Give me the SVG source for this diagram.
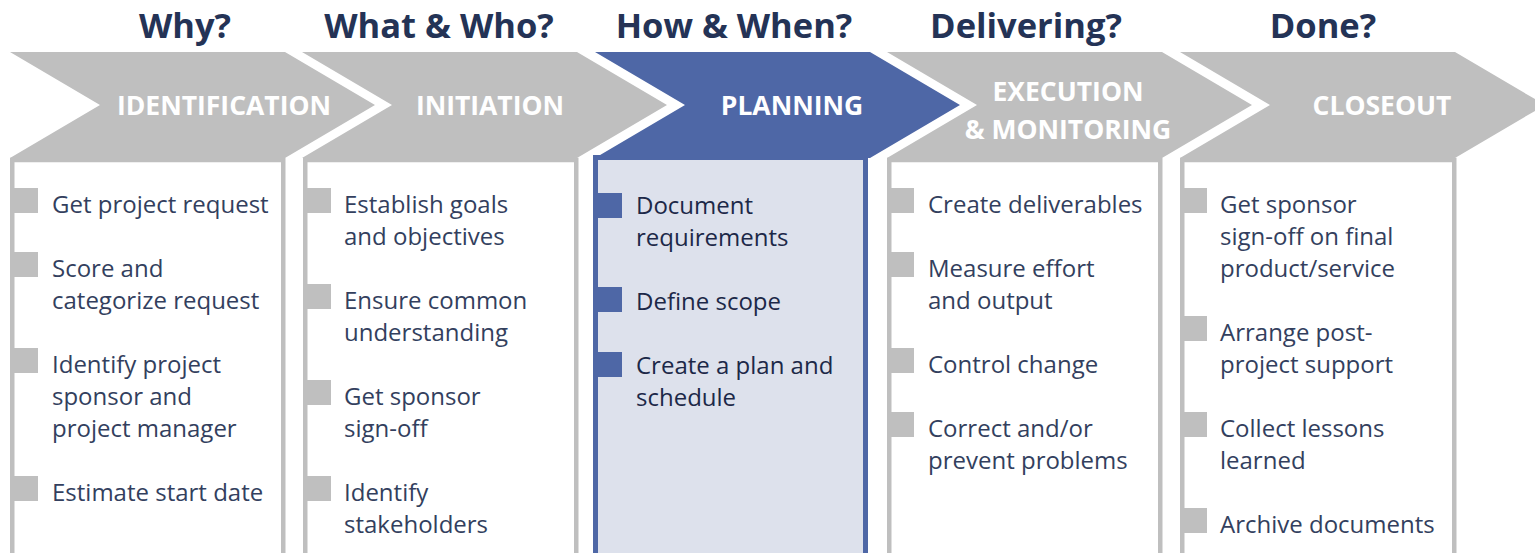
<svg xmlns="http://www.w3.org/2000/svg" width="1535" height="553" viewBox="0 0 1535 553">
<style>
  .bg{fill:#ffffff}
  .head{font-family:"Open Sans","Noto Sans","Liberation Sans",sans-serif;font-weight:bold;font-size:34.5px;fill:#243356;text-anchor:middle}
  .chev{fill:#bfbfbf}
  .chev-on{fill:#4e67a6}
  .lbl{font-family:"Open Sans","Noto Sans","Liberation Sans",sans-serif;font-weight:bold;font-size:26.5px;fill:#ffffff;text-anchor:middle}
  .box{fill:#ffffff;stroke:#bfbfbf;stroke-width:4.5}
  .box-on{fill:#dde1ec;stroke:#4e67a6;stroke-width:5}
  .bul{fill:#bfbfbf}
  .bul-on{fill:#4e67a6}
  .txt{font-family:"Open Sans","Noto Sans","Liberation Sans",sans-serif;font-size:24px;fill:#333f5e}
  .txt-on{font-family:"Open Sans","Noto Sans","Liberation Sans",sans-serif;font-size:24px;fill:#1c2848}
</style>
<rect class="bg" x="0" y="0" width="1535" height="553"/>

<g id="headings">
  <text class="head" x="185" y="38">Why?</text>
  <text class="head" x="439" y="38">What &amp; Who?</text>
  <text class="head" x="734" y="38">How &amp; When?</text>
  <text class="head" x="1026" y="38">Delivering?</text>
  <text class="head" x="1323" y="38">Done?</text>
</g>

<g id="connectors"></g>

<g id="identification">
  <rect class="box" x="12.25" y="160" width="271" height="420"/>
  <polygon class="chev" points="10,52 285,52 375,105 285,158 10,158 100,105"/>
  <text class="lbl" x="224" y="115">IDENTIFICATION</text>
  <rect class="bul" x="14" y="188" width="24" height="25"/>
  <rect class="bul" x="14" y="252" width="24" height="25"/>
  <rect class="bul" x="14" y="348" width="24" height="25"/>
  <rect class="bul" x="14" y="476" width="24" height="25"/>
  <text class="txt" x="52" y="213">Get project request</text>
  <text class="txt" x="52" y="277">Score and</text>
  <text class="txt" x="52" y="309">categorize request</text>
  <text class="txt" x="52" y="373">Identify project</text>
  <text class="txt" x="52" y="405">sponsor and</text>
  <text class="txt" x="52" y="437">project manager</text>
  <text class="txt" x="52" y="501">Estimate start date</text>
</g>

<g id="initiation">
  <rect class="box" x="305.25" y="160" width="271" height="420"/>
  <polygon class="chev" points="302,52 577,52 667,105 577,158 302,158 392,105"/>
  <text class="lbl" x="490" y="115">INITIATION</text>
  <rect class="bul" x="307" y="188" width="24" height="25"/>
  <rect class="bul" x="307" y="284" width="24" height="25"/>
  <rect class="bul" x="307" y="380" width="24" height="25"/>
  <rect class="bul" x="307" y="476" width="24" height="25"/>
  <text class="txt" x="344" y="213">Establish goals</text>
  <text class="txt" x="344" y="245">and objectives</text>
  <text class="txt" x="344" y="309">Ensure common</text>
  <text class="txt" x="344" y="341">understanding</text>
  <text class="txt" x="344" y="405">Get sponsor</text>
  <text class="txt" x="344" y="437">sign-off</text>
  <text class="txt" x="344" y="501">Identify</text>
  <text class="txt" x="344" y="533">stakeholders</text>
</g>

<g id="planning">
  <rect class="box-on" x="595.5" y="157.5" width="270" height="420"/>
  <polygon class="chev-on" points="595,52 870,52 960,105 870,158 595,158 685,105"/>
  <text class="lbl" x="792" y="115">PLANNING</text>
  <rect class="bul-on" x="598" y="193" width="24" height="25"/>
  <rect class="bul-on" x="598" y="287" width="24" height="25"/>
  <rect class="bul-on" x="598" y="352" width="24" height="25"/>
  <text class="txt-on" x="636" y="214">Document</text>
  <text class="txt-on" x="636" y="246">requirements</text>
  <text class="txt-on" x="636" y="310">Define scope</text>
  <text class="txt-on" x="636" y="374">Create a plan and</text>
  <text class="txt-on" x="636" y="406">schedule</text>
</g>

<g id="execution-monitoring">
  <rect class="box" x="889.25" y="160" width="271" height="420"/>
  <polygon class="chev" points="887,52 1162,52 1252,105 1162,158 887,158 977,105"/>
  <text class="lbl" x="1068" y="101">EXECUTION</text>
  <text class="lbl" x="1068" y="139">&amp; MONITORING</text>
  <rect class="bul" x="890" y="188" width="24" height="25"/>
  <rect class="bul" x="890" y="252" width="24" height="25"/>
  <rect class="bul" x="890" y="348" width="24" height="25"/>
  <rect class="bul" x="890" y="412" width="24" height="25"/>
  <text class="txt" x="928" y="213">Create deliverables</text>
  <text class="txt" x="928" y="277">Measure effort</text>
  <text class="txt" x="928" y="309">and output</text>
  <text class="txt" x="928" y="373">Control change</text>
  <text class="txt" x="928" y="437">Correct and/or</text>
  <text class="txt" x="928" y="469">prevent problems</text>
</g>

<g id="closeout">
  <rect class="box" x="1182.25" y="160" width="272" height="420"/>
  <polygon class="chev" points="1180,52 1455,52 1545,105 1455,158 1180,158 1270,105"/>
  <text class="lbl" x="1382" y="115">CLOSEOUT</text>
  <rect class="bul" x="1183" y="188" width="24" height="25"/>
  <rect class="bul" x="1183" y="316" width="24" height="25"/>
  <rect class="bul" x="1183" y="412" width="24" height="25"/>
  <rect class="bul" x="1183" y="508" width="24" height="25"/>
  <text class="txt" x="1220" y="213">Get sponsor</text>
  <text class="txt" x="1220" y="245">sign-off on final</text>
  <text class="txt" x="1220" y="277">product/service</text>
  <text class="txt" x="1220" y="341">Arrange post-</text>
  <text class="txt" x="1220" y="373">project support</text>
  <text class="txt" x="1220" y="437">Collect lessons</text>
  <text class="txt" x="1220" y="469">learned</text>
  <text class="txt" x="1220" y="533">Archive documents</text>
</g>
</svg>
